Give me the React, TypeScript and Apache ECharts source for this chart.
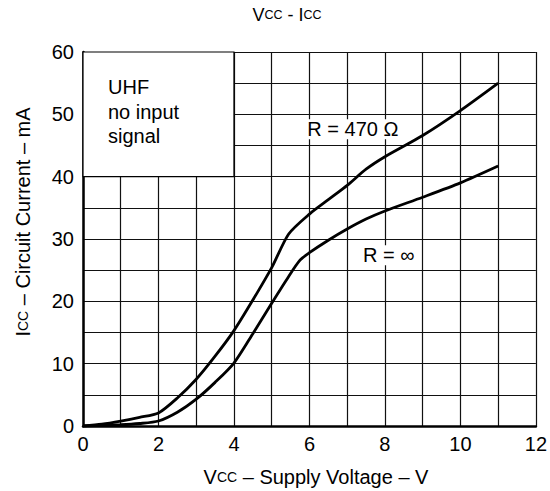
import React, { useEffect, useRef } from 'react';
import * as echarts from 'echarts';

// R = 470 Ω curve
const voltage470 = [0, 0.5, 1, 1.5, 2, 2.5, 3, 3.5, 4, 4.5, 5, 5.45, 6, 6.5, 7, 7.5, 8, 9, 10, 11];
const current470 = [0, 0.3, 0.8, 1.4, 2.1, 4.5, 7.5, 11.2, 15.3, 20.2, 25.4, 30.8, 34.0, 36.3, 38.6, 41.2, 43.2, 46.6, 50.6, 55];
// R = ∞ curve
const voltageInf = [0, 1, 1.5, 2, 2.5, 3, 3.5, 4, 4.5, 5, 5.45, 5.75, 6, 6.5, 7, 7.5, 8, 9, 10, 11];
const currentInf = [0, 0.2, 0.4, 0.8, 2.2, 4.3, 7.0, 10.1, 14.8, 19.7, 24.0, 26.6, 27.8, 29.8, 31.6, 33.2, 34.5, 36.7, 39.0, 41.7];

const xTickLabels = [0, 2, 4, 6, 8, 10, 12];
const yTickLabels = [0, 10, 20, 30, 40, 50, 60];

const seriesNames = ['R = 470 Ω', 'R = ∞'];
const noteLines = ['UHF', 'no input', 'signal'];

const FONT = 'Liberation Sans, Arial, Helvetica, sans-serif';

export default function App() {
  const ref = useRef<HTMLDivElement>(null);
  useEffect(() => {
    if (!ref.current) return;
    const chart = echarts.init(ref.current, undefined, { renderer: 'svg' });
    const zip = (xs: number[], ys: number[]) => xs.map((x, i) => [x, ys[i]]);
    const sub = { s: { fontSize: 14, fontFamily: FONT, color: '#000' } };
    chart.setOption({
      animation: false,
      backgroundColor: '#fff',
      textStyle: { fontFamily: FONT },
      grid: { left: 83, right: 13, top: 52, bottom: 65, show: false },
      xAxis: {
        type: 'value', min: 0, max: 12, interval: 1,
        axisLine: { show: true, lineStyle: { color: '#000', width: 2.5 } },
        axisTick: { show: false },
        splitLine: { show: true, lineStyle: { color: '#111', width: 1.2 } },
        axisLabel: {
          fontSize: 20, color: '#000', margin: 8, fontFamily: FONT,
          formatter: (v: number) => (xTickLabels.includes(v) ? String(v) : ''),
        },
      },
      yAxis: {
        type: 'value', min: 0, max: 60, interval: 5,
        axisLine: { show: true, lineStyle: { color: '#000', width: 2.5 } },
        axisTick: { show: false },
        splitLine: { show: true, lineStyle: { color: '#111', width: 1.2 } },
        axisLabel: {
          fontSize: 20, color: '#000', margin: 9, fontFamily: FONT,
          formatter: (v: number) => (yTickLabels.includes(v) ? String(v) : ''),
        },
      },
      graphic: [
        {
          type: 'text', x: 287, y: 15,
          style: {
            text: 'V{s|CC} - I{s|CC}', fill: '#000', fontSize: 18, fontFamily: FONT,
            textAlign: 'center', textVerticalAlign: 'middle', rich: { s: { fontSize: 12.5, fontFamily: FONT } },
          },
        },
        {
          type: 'text', x: 316, y: 477,
          style: {
            text: 'V{s|CC} – Supply Voltage – V', fill: '#000', fontSize: 20, fontFamily: FONT,
            textAlign: 'center', textVerticalAlign: 'middle', rich: sub,
          },
        },
        {
          type: 'text', x: 23, y: 222, rotation: Math.PI / 2,
          style: {
            text: 'I{s|CC} – Circuit Current – mA', fill: '#000', fontSize: 20, fontFamily: FONT,
            textAlign: 'center', textVerticalAlign: 'middle', rich: sub,
          },
        },
        {
          type: 'text', x: 108, y: 75, z: 100,
          style: {
            text: noteLines.join('\n'), fill: '#000', fontSize: 20, fontFamily: FONT,
            lineHeight: 24.5, textAlign: 'left', textVerticalAlign: 'top',
          },
        },
      ],
      series: [
        {
          name: seriesNames[0], type: 'line', data: zip(voltage470, current470),
          smooth: 0.25, showSymbol: false, symbol: 'none',
          lineStyle: { color: '#000', width: 2.8 },
          markArea: {
            silent: true,
            itemStyle: { color: '#fff', borderColor: '#000', borderWidth: 1.2, opacity: 1 },
            label: { show: false },
            data: [[{ xAxis: 0, yAxis: 40 }, { xAxis: 4, yAxis: 60 }]],
          },
          markPoint: {
            symbol: 'rect', symbolSize: 0, silent: true,
            label: {
              show: true, position: 'inside', formatter: seriesNames[0], color: '#000', fontSize: 20,
              fontFamily: FONT, backgroundColor: '#fff', padding: [0, 1],
            },
            data: [{ coord: [7.15, 47.6] }],
          },
        },
        {
          name: seriesNames[1], type: 'line', data: zip(voltageInf, currentInf),
          smooth: 0.25, showSymbol: false, symbol: 'none',
          lineStyle: { color: '#000', width: 2.8 },
          markPoint: {
            symbol: 'rect', symbolSize: 0, silent: true,
            label: {
              show: true, position: 'inside', formatter: seriesNames[1], color: '#000', fontSize: 20,
              fontFamily: FONT, backgroundColor: '#fff', padding: [0, 1],
            },
            data: [{ coord: [8.1, 27.4] }],
          },
        },
      ],
    });
    return () => chart.dispose();
  }, []);
  return <div ref={ref} style={{ width: 550, height: 491, position: 'absolute', left: 0, top: 0 }} />;
}
